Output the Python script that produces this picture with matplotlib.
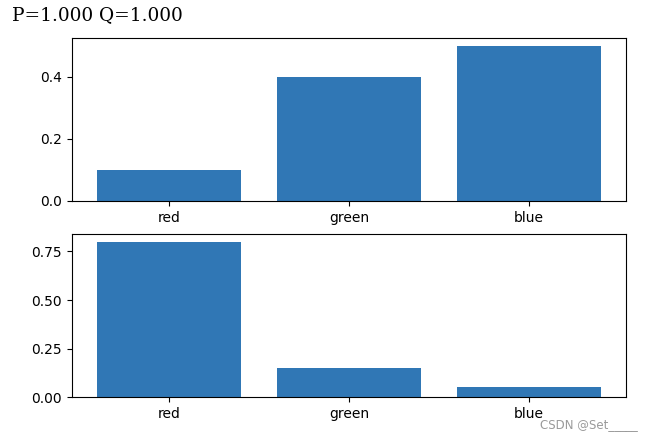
import matplotlib
matplotlib.use("Agg")
import matplotlib.pyplot as plt

# values
colors = ["red", "green", "blue"]
p_values = [0.1, 0.4, 0.5]
q_values = [0.8, 0.15, 0.05]
header = "P=1.000 Q=1.000"

fig = plt.figure(figsize=(6.47, 4.40), dpi=100)
ax1 = fig.add_axes([0.111, 0.5432, 0.8565, 0.3704])
ax2 = fig.add_axes([0.111, 0.0977, 0.8565, 0.3704])

bar_color = "#3077b5"
ax1.bar(colors, p_values, color=bar_color)
ax2.bar(colors, q_values, color=bar_color)

ax1.set_yticks([0.0, 0.2, 0.4])
ax2.set_yticks([0.0, 0.25, 0.5, 0.75])

# printed line above the figure (notebook output)
fig.text(0.018, 0.965, header, family="DejaVu Serif", fontsize=13.3, va="center", ha="left")

# watermark
fig.text(0.985, 0.035, "CSDN @Set_____", color="#9a9a9a", fontsize=8.5, ha="right", va="center")

fig.savefig("out.png", dpi=100)
